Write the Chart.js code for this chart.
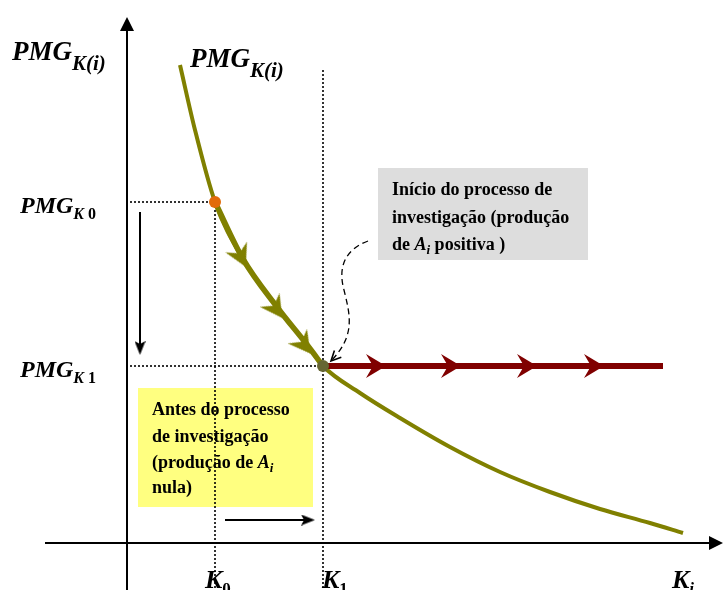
<!DOCTYPE html>
<html>
<head>
<meta charset="utf-8">
<script src="https://cdn.jsdelivr.net/npm/chart.js@4"></script>
<style>
  body { margin: 0; background: #fff; }
  canvas { display: block; }
</style>
</head>
<body>
<canvas id="pmgChart" width="723" height="590"></canvas>
<script>
// Capital stock levels and the marginal product at each of them
const kLevels = [8.8, 19.6];        // K0, K1
const kSubs = ['0', '1'];
const pmgLevels = [34.1, 17.7];     // PMG_K0, PMG_K1

// PMG_K(i) curve, read point by point
const curveK = [5.3, 6.8, 8.8, 11.6, 15.0, 18.1, 19.6, 23.3, 27.3, 32.3, 37.3, 42.3, 47.3, 52.3, 55.6];
const curvePMG = [47.8, 41.3, 34.1, 28.4, 23.6, 19.7, 17.7, 15.0, 12.5, 9.6, 7.1, 5.1, 3.4, 2.0, 1.0];

// direction markers along the curve and along the flat PMG_K1 line
const curveArrowK = [11.4, 14.9, 17.7];
const curveArrowPMG = [28.6, 23.4, 19.8];
const curveArrowAngle = [64, 55, 53];
const flatArrowK = [24.9, 32.4, 40.0, 46.7];
const flatEndK = 53.6;

const serif = '"Liberation Serif", "Times New Roman", serif';

function pts(xs, ys) {
  return xs.map((x, i) => ({ x: x, y: ys[i] }));
}

// notched arrow head, pointing right
function arrowHead(color, len, wid, notch) {
  const c = document.createElement('canvas');
  c.width = len;
  c.height = wid;
  const g = c.getContext('2d');
  g.fillStyle = color;
  g.beginPath();
  g.moveTo(len, wid / 2);
  g.lineTo(0, 0);
  g.lineTo(notch, wid / 2);
  g.lineTo(0, wid);
  g.closePath();
  g.fill();
  return c;
}

const oliveHead = arrowHead('#808000', 22, 24, 7);
const redHead = arrowHead('#800000', 20, 24, 7);
const blackHead = arrowHead('#000', 14, 11, 3);
const axisHead = arrowHead('#000', 14, 14, 0);

const segStart = curveK.indexOf(kLevels[0]);
const segEnd = curveK.indexOf(kLevels[1]);

// draws a run of text pieces: [text, font, baseline shift]
function drawRun(ctx, x, y, parts) {
  parts.forEach(p => {
    ctx.font = p[1];
    ctx.fillText(p[0], x, y + (p[2] || 0));
    x += ctx.measureText(p[0]).width;
  });
}

const notes = {
  id: 'notes',
  beforeDatasetsDraw(chart) {
    const { ctx, scales: { x, y } } = chart;
    ctx.save();
    // yellow note box
    ctx.fillStyle = '#ffff80';
    ctx.fillRect(x.getPixelForValue(1.1), y.getPixelForValue(15.5),
      x.getPixelForValue(18.6) - x.getPixelForValue(1.1), y.getPixelForValue(3.6) - y.getPixelForValue(15.5));
    // grey note box
    ctx.fillStyle = '#dddddd';
    ctx.fillRect(x.getPixelForValue(25.1), y.getPixelForValue(37.5),
      x.getPixelForValue(46.1) - x.getPixelForValue(25.1), y.getPixelForValue(28.3) - y.getPixelForValue(37.5));
    ctx.restore();
  },
  afterDatasetsDraw(chart) {
    const { ctx, scales: { x, y } } = chart;
    const px = v => x.getPixelForValue(v);
    const py = v => y.getPixelForValue(v);
    ctx.save();
    ctx.fillStyle = '#000';
    ctx.textBaseline = 'alphabetic';

    // dashed pointer from the grey note to the K1 point
    ctx.strokeStyle = '#000';
    ctx.lineWidth = 1.3;
    ctx.setLineDash([6, 4]);
    ctx.beginPath();
    ctx.moveTo(px(24.1), py(30.2));
    ctx.bezierCurveTo(px(21.7), py(29.3), px(21.1), py(27.5), px(21.7), py(25.3));
    ctx.bezierCurveTo(px(22.3), py(22.8), px(22.9), py(20.8), px(20.4), py(18.2));
    ctx.stroke();
    ctx.setLineDash([]);
    const ex = px(20.4), ey = py(18.2);
    const ang = Math.atan2(ey - py(20.8), ex - px(22.9));
    ctx.lineWidth = 1.6;
    ctx.beginPath();
    ctx.moveTo(ex - 11 * Math.cos(ang - 0.45), ey - 11 * Math.sin(ang - 0.45));
    ctx.lineTo(ex, ey);
    ctx.lineTo(ex - 11 * Math.cos(ang + 0.45), ey - 11 * Math.sin(ang + 0.45));
    ctx.stroke();

    const big = 'bold italic 27px ' + serif;
    const mid = 'bold italic 24px ' + serif;
    const kFont = 'bold italic 26px ' + serif;
    const kShift = [-10, -1];

    // axis title and curve label
    drawRun(ctx, 12, py(48.3), [['PMG', big], ['K(i)', 'bold italic 21px ' + serif, 10]]);
    drawRun(ctx, 190, py(47.6), [['PMG', big], ['K(i)', 'bold italic 21px ' + serif, 10]]);

    // PMG levels on the vertical axis
    pmgLevels.forEach((v, i) => {
      drawRun(ctx, 20, py(v) + 11, [['PMG', mid], ['K', 'bold italic 16px ' + serif, 6], [' ' + kSubs[i], 'bold 16px ' + serif, 6]]);
    });

    // K levels on the horizontal axis
    kLevels.forEach((v, i) => {
      drawRun(ctx, px(v) + kShift[i], 588, [['K', kFont], [kSubs[i], 'bold 17px ' + serif, 6]]);
    });
    drawRun(ctx, 672, 588, [['K', kFont], ['i', 'bold italic 17px ' + serif, 6]]);

    // note texts
    const nb = 'bold 18px ' + serif;
    const ni = 'bold italic 18px ' + serif;
    const ns = 'bold italic 13px ' + serif;
    const gx = px(25.1) + 14;
    drawRun(ctx, gx, py(37.5) + 27, [['Início do processo de', nb]]);
    drawRun(ctx, gx, py(37.5) + 55, [['investigação (produção', nb]]);
    drawRun(ctx, gx, py(37.5) + 82, [['de ', nb], ['A', ni], ['i', ns, 4], [' positiva )', nb]]);

    const yx = px(1.1) + 14;
    drawRun(ctx, yx, py(15.5) + 27, [['Antes do processo', nb]]);
    drawRun(ctx, yx, py(15.5) + 54, [['de investigação', nb]]);
    drawRun(ctx, yx, py(15.5) + 80, [['(produção de ', nb], ['A', ni], ['i', ns, 4]]);
    drawRun(ctx, yx, py(15.5) + 105, [['nula)', nb]]);
    ctx.restore();
  }
};

const dotted = { borderColor: '#000', borderWidth: 1.6, borderDash: [2, 2], pointRadius: 0, showLine: true };
const plain = { borderColor: '#000', borderWidth: 2, pointRadius: 0, showLine: true };

new Chart(document.getElementById('pmgChart'), {
  type: 'scatter',
  data: {
    datasets: [
      // highlighted points
      {
        data: [{ x: kLevels[0], y: pmgLevels[0] }],
        pointRadius: 6, pointBackgroundColor: '#e26b0a', pointBorderWidth: 0
      },
      {
        data: [{ x: kLevels[1], y: pmgLevels[1] }],
        pointRadius: 6, pointBackgroundColor: '#666633', pointBorderWidth: 0
      },
      // arrow heads
      {
        data: flatArrowK.map(k => ({ x: k, y: pmgLevels[1] })),
        pointStyle: redHead, pointRadius: 5
      },
      {
        data: pts(curveArrowK, curveArrowPMG),
        pointStyle: oliveHead, pointRotation: curveArrowAngle, pointRadius: 5
      },
      {
        data: [{ x: 1.3, y: 19.5 }],
        pointStyle: blackHead, pointRotation: 90, pointRadius: 5
      },
      {
        data: [{ x: 18.1, y: 2.3 }],
        pointStyle: blackHead, pointRadius: 5
      },
      {
        data: [{ x: 0, y: 51.9 }],
        pointStyle: axisHead, pointRotation: -90, pointRadius: 5
      },
      {
        data: [{ x: 58.9, y: 0 }],
        pointStyle: axisHead, pointRadius: 5
      },
      // flat PMG_K1 line once research starts
      {
        data: [{ x: kLevels[1], y: pmgLevels[1] }, { x: flatEndK, y: pmgLevels[1] }],
        showLine: true, borderColor: '#800000', borderWidth: 6, pointRadius: 0
      },
      // path from K0 to K1 along the curve
      {
        data: pts(curveK.slice(segStart, segEnd + 1), curvePMG.slice(segStart, segEnd + 1)),
        showLine: true, borderColor: '#808000', borderWidth: 5.5, pointRadius: 0,
        cubicInterpolationMode: 'monotone'
      },
      // PMG_K(i) curve
      {
        data: pts(curveK, curvePMG),
        showLine: true, borderColor: '#808000', borderWidth: 4, pointRadius: 0,
        cubicInterpolationMode: 'monotone'
      },
      // movement arrows
      Object.assign({ data: [{ x: 1.3, y: 33.1 }, { x: 1.3, y: 19.5 }] }, plain),
      Object.assign({ data: [{ x: 9.8, y: 2.3 }, { x: 18.1, y: 2.3 }] }, plain),
      // axes
      Object.assign({ data: [{ x: 0, y: -4.7 }, { x: 0, y: 51.3 }] }, plain),
      Object.assign({ data: [{ x: -8.2, y: 0 }, { x: 58.3, y: 0 }] }, plain),
      // guide lines
      Object.assign({ data: [{ x: 0.3, y: pmgLevels[0] }, { x: kLevels[0], y: pmgLevels[0] }] }, dotted),
      Object.assign({ data: [{ x: kLevels[0], y: pmgLevels[0] }, { x: kLevels[0], y: -4.7 }] }, dotted),
      Object.assign({ data: [{ x: 0.3, y: pmgLevels[1] }, { x: kLevels[1], y: pmgLevels[1] }] }, dotted),
      Object.assign({ data: [{ x: kLevels[1], y: 47.3 }, { x: kLevels[1], y: -4.7 }] }, dotted)
    ]
  },
  options: {
    responsive: false,
    animation: false,
    layout: { padding: 0, autoPadding: false },
    scales: {
      x: { type: 'linear', display: false, min: -12.7, max: 59.6 },
      y: { type: 'linear', display: false, min: -4.7, max: 54.3 }
    },
    plugins: {
      legend: { display: false },
      tooltip: { enabled: false }
    }
  },
  plugins: [notes]
});
</script>
</body>
</html>
